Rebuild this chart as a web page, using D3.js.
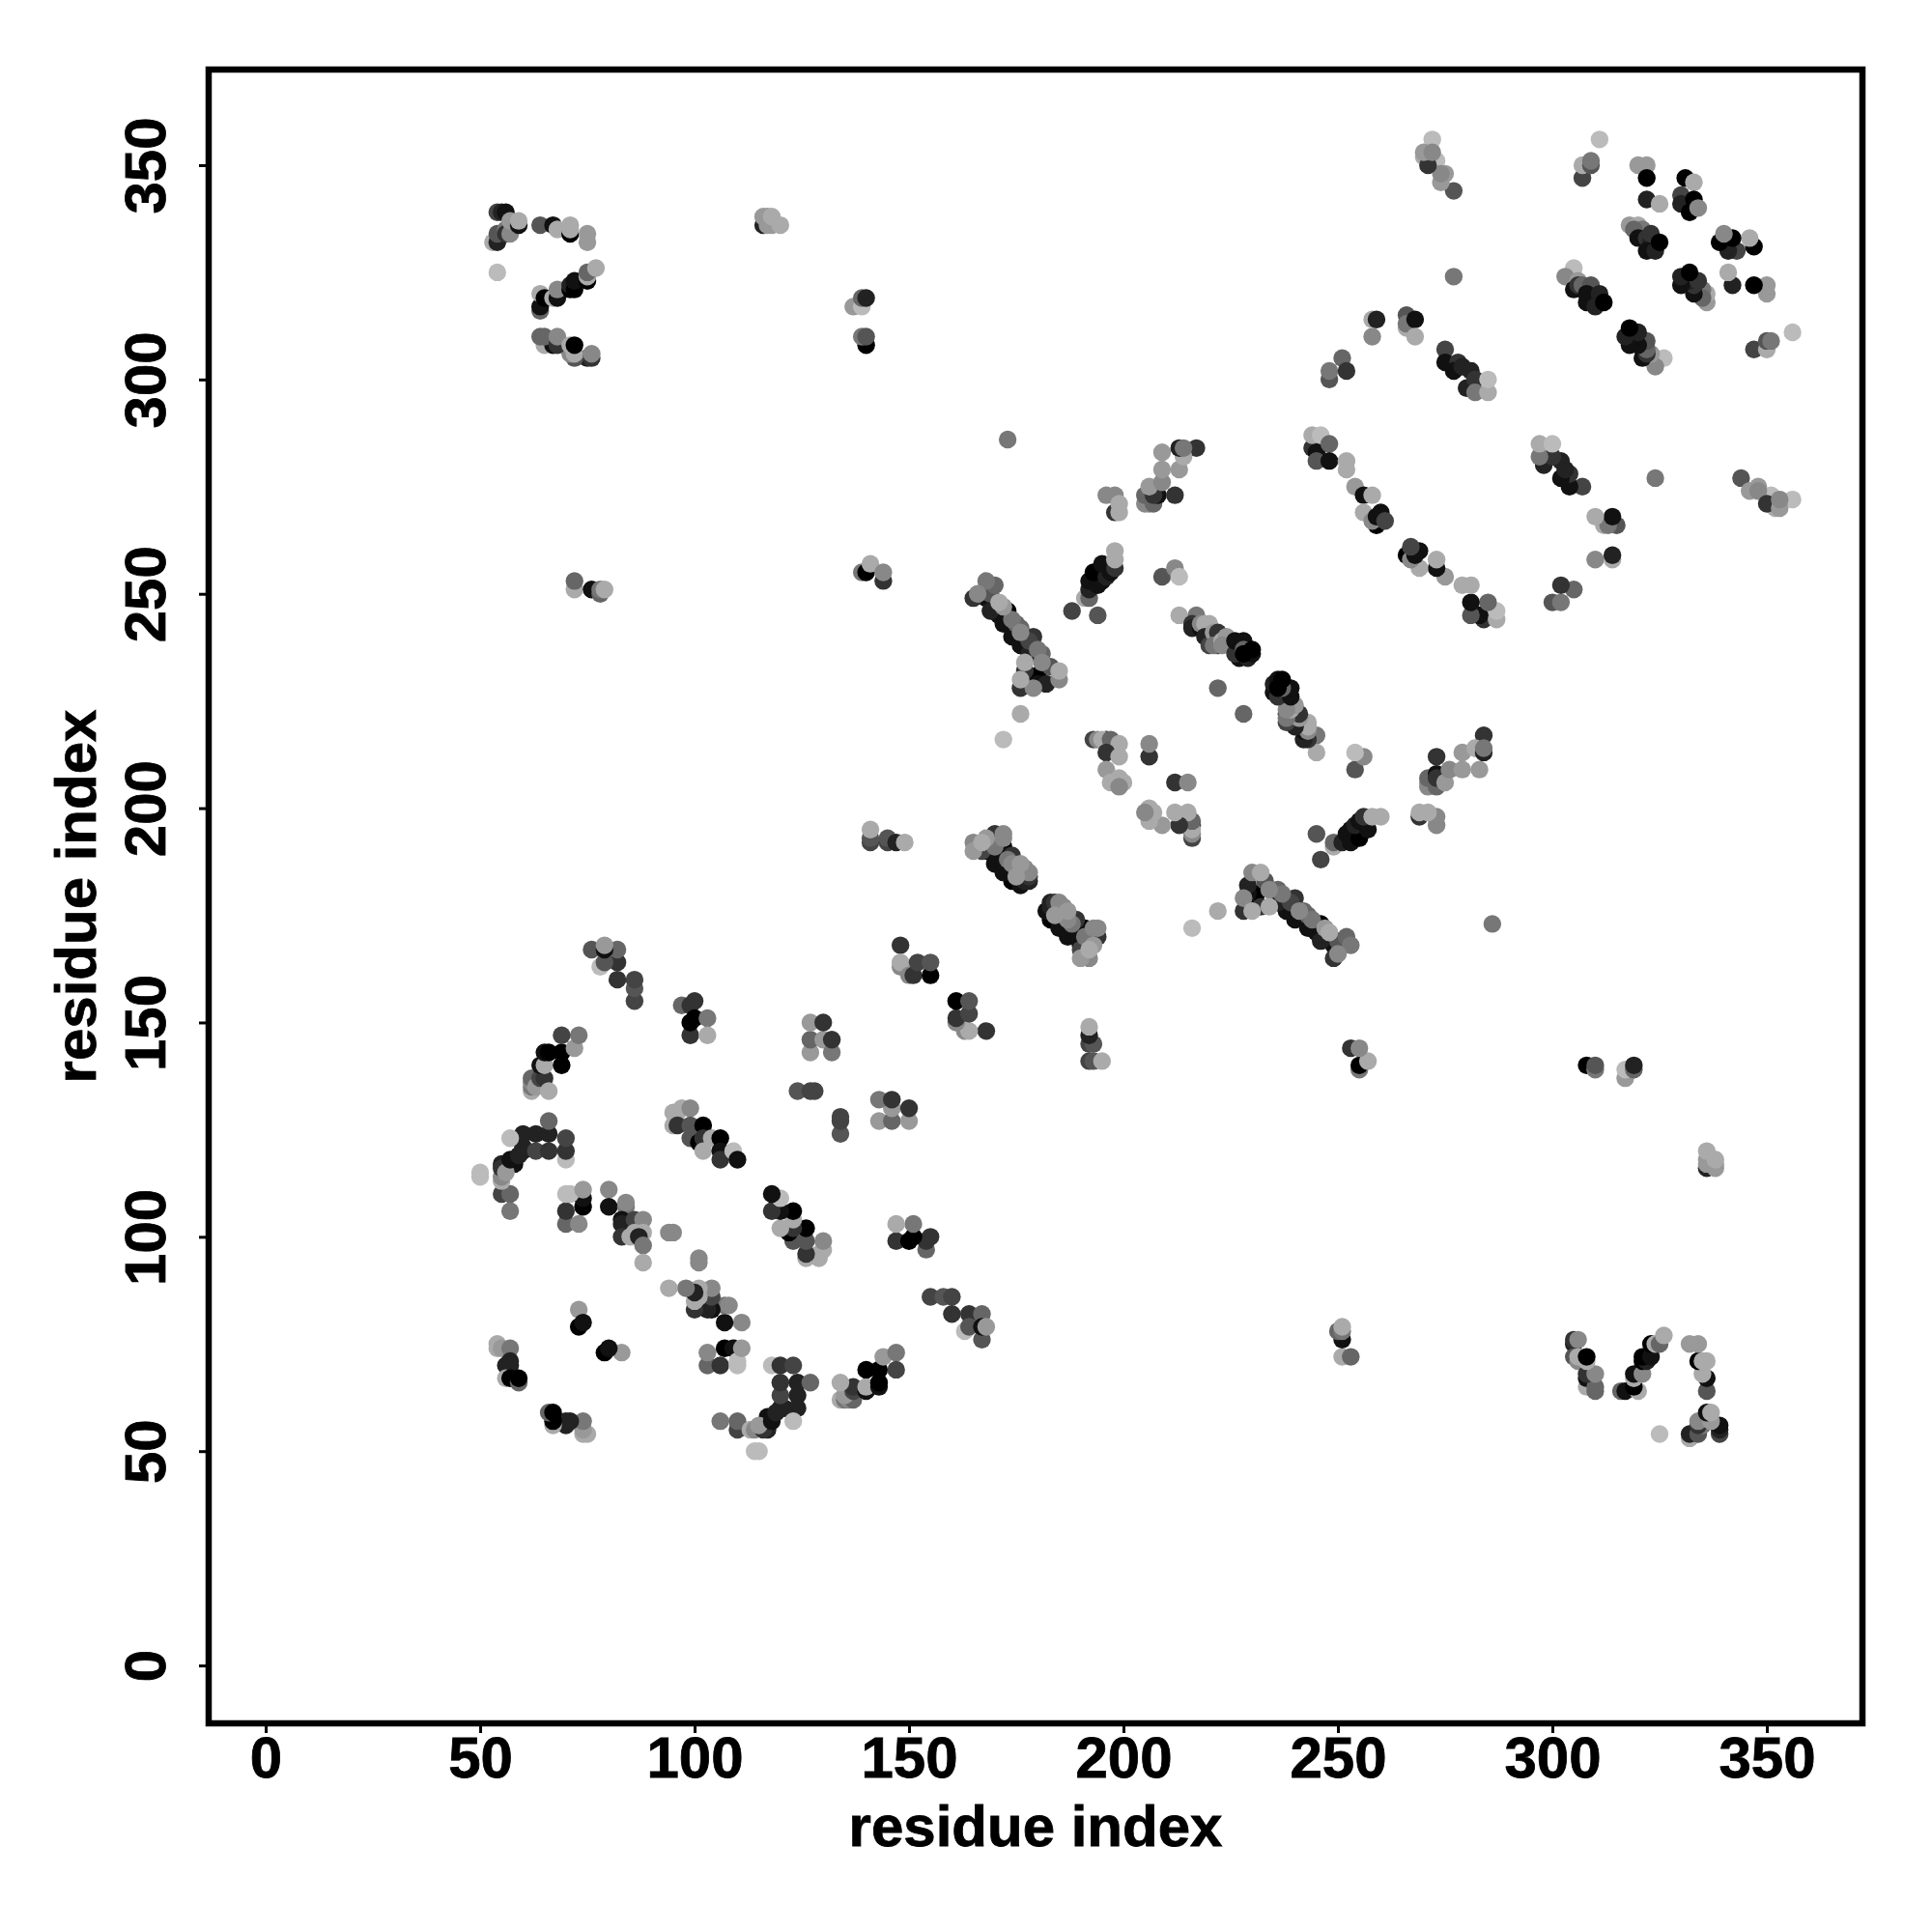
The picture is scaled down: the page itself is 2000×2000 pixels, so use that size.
<!DOCTYPE html>
<html><head><meta charset="utf-8">
<script src="https://cdn.jsdelivr.net/npm/d3@7/dist/d3.min.js"></script>
<style>html,body{margin:0;background:#fff}</style></head>
<body><div id="chart"></div>
<script>
// Contacts as [residue i, residue j, shade], i < j. A contact map is symmetric: each is also drawn at (j, i).
// Shade runs from 0 (black) to 15 (white).
const tickValues = [0,50,100,150,200,250,300,350];
const axisTitle = "residue index";

const c54_325 = [[54,325,11],[53,332,10],[54,333,10],[54,332,2],[54,334,5],[56,335,7],[56,334,3],[57,334,8],[54,339,4],[55,339,2],[56,339,1],[57,337,9],[59,336,1],[59,337,10]];
const c64_332 = [[64,336,5],[67,336,1],[68,335,10],[71,334,0],[71,336,10],[71,335,10],[75,334,9],[75,332,9]];
const c64_316 = [[64,316,6],[64,317,1],[64,320,10],[65,319,0],[67,319,10],[68,319,1],[68,321,8],[71,321,0],[71,322,2],[72,321,0],[72,323,1],[75,323,0],[75,324,10],[75,325,6],[77,326,10]];
const c64_305 = [[75,305,2],[76,305,3],[72,305,5],[71,306,8],[72,306,10],[65,308,10],[67,308,1],[64,310,6],[65,310,6],[68,308,3],[68,310,8],[71,308,10],[72,308,0],[76,306,8]];
const c116_336 = [[116,336,2],[116,338,9],[117,336,9],[117,338,9],[118,336,9],[118,338,10],[120,336,10]];
const c137_308 = [[137,317,9],[139,317,11],[139,319,6],[140,319,2],[140,308,0],[139,310,7],[140,310,5]];
const c72_250 = [[72,251,10],[72,253,6],[76,251,1],[78,250,6],[78,251,7],[79,251,10]];
const c139_253 = [[139,255,7],[140,255,0],[141,257,10],[144,253,3],[144,255,8]];
const c54_67 = [[54,75,10],[54,74,10],[55,74,9],[57,74,7],[57,71,2],[56,70,2],[57,70,2],[56,67,10],[57,67,0],[59,66,6],[59,67,0]];
const c73_79 = [[73,83,9],[73,79,0],[74,80,1]];
const c50_106 = [[50,114,11],[50,115,11],[57,106,7],[55,110,4],[57,110,6],[55,113,10],[55,114,8],[56,116,0],[56,117,1],[58,117,1],[55,117,2],[55,116,3],[56,115,9],[57,118,1],[59,119,2],[60,120,2],[60,121,2],[60,124,2],[57,123,11],[63,120,4],[63,124,2],[66,120,3],[66,124,2],[66,127,6],[70,118,11],[70,120,3],[70,123,4]];
const c62_134 = [[62,134,10],[62,135,7],[62,136,8],[62,137,6],[63,135,9],[64,137,4],[65,137,3],[66,134,10],[64,140,1],[65,140,10],[69,140,0],[65,143,1],[66,143,0],[69,143,0],[72,144,9],[73,147,7],[69,147,4]];
const c70_103 = [[70,103,6],[73,103,8],[70,106,3],[74,107,0],[74,109,1],[70,110,11],[71,110,11],[74,111,9]];
const c80_94 = [[80,111,8],[80,107,1],[84,107,7],[84,108,8],[83,104,1],[83,103,2],[83,100,3],[85,100,10],[86,104,4],[88,104,8],[86,101,10],[88,101,10],[87,100,2],[88,98,7],[88,94,10],[94,101,8],[95,101,8]];
const c76_155 = [[86,155,4],[86,158,5],[86,160,4],[82,160,3],[82,164,3],[82,167,6],[76,167,5],[78,163,11],[79,164,5],[79,167,1],[79,168,9]];
const c97_147 = [[97,154,6],[99,154,3],[100,155,3],[99,147,3],[99,150,0],[100,151,0],[103,151,7],[103,147,10]];
const c95_118 = [[95,126,10],[95,129,10],[96,129,10],[97,130,10],[99,130,8],[96,126,3],[99,126,5],[99,123,5],[101,122,0],[102,126,0],[102,123,3],[102,120,10],[104,123,10],[106,123,0],[106,120,1],[106,118,3],[109,120,11],[110,118,1]];
const c124_127 = [[124,134,5],[127,134,4],[128,134,4]];
const c127_143 = [[127,143,9],[127,146,6],[127,150,9],[130,146,9],[130,150,3],[132,143,7],[132,146,3]];
const c141_192 = [[141,192,4],[141,193,5],[145,192,4],[145,193,5],[147,192,2],[141,195,10],[149,192,10]];
const c148_161 = [[148,168,3],[148,163,8],[148,164,10],[150,161,8],[151,161,3],[152,164,4],[155,161,0],[155,164,5]];
const c165_183 = [[165,190,9],[165,192,8],[167,192,10],[167,190,4],[169,190,1],[169,192,3],[168,190,0],[171,188,1],[171,190,1],[170,187,1],[170,193,3],[170,191,7],[172,191,0],[172,190,0],[172,193,8],[172,194,8],[170,194,3],[168,193,9],[172,185,1],[172,186,1],[173,188,7],[174,183,0],[175,186,2],[174,184,0],[176,182,1],[174,189,3],[174,187,8],[176,185,6],[176,187,9],[175,184,9],[177,186,8],[177,183,2],[178,183,2],[178,184,3],[178,185,8]];
const c165_228 = [[165,249,3],[166,250,8],[168,249,1],[168,253,7],[170,252,6],[169,246,2],[169,250,5],[171,245,1],[171,248,10],[172,243,1],[172,247,9],[173,246,0],[174,240,1],[174,244,7],[175,243,6],[176,238,1],[176,241,8],[176,242,6],[178,236,2],[178,239,4],[179,240,3],[176,228,3],[176,230,10],[177,229,1],[177,232,3],[177,234,10],[179,228,8],[180,229,1],[180,231,0],[180,237,7],[181,236,6],[181,234,8],[182,229,2],[183,233,5],[185,230,8],[185,232,10]];
const c173 = [[173,286,7],[176,222,10],[172,216,11]];
const c188_245 = [[188,246,4],[194,245,5],[191,249,10],[192,249,6],[192,251,2],[192,253,1],[195,253,1],[194,252,1],[193,255,0],[196,254,2],[197,255,1],[195,257,1],[198,256,3],[198,258,10],[198,260,10]];
const c193_205 = [[193,216,4],[194,216,8],[196,216,2],[195,216,10],[197,216,6],[199,215,10],[196,213,3],[199,212,10],[196,209,9],[199,207,10],[197,206,10],[200,206,10],[199,205,8],[206,212,3],[206,215,8]];
const c196_269 = [[196,273,8],[198,273,8],[198,269,3],[199,271,10],[199,269,10]];
const c205_271 = [[205,271,8],[206,271,8],[205,273,6],[207,271,6],[208,273,1],[207,273,3],[206,275,9],[212,273,3],[209,276,8],[209,279,9],[213,279,9],[209,283,9],[217,284,3],[214,282,10],[213,284,2],[214,284,7]];
const c209_254 = [[209,254,5],[212,256,8],[213,254,11]];
const c213_235 = [[213,245,10],[217,245,7],[216,243,3],[216,242,2],[218,242,1],[218,243,8],[219,243,10],[220,243,10],[219,240,2],[220,238,4],[221,241,9],[222,241,3],[222,238,3],[221,238,7],[223,239,10],[224,240,9],[223,238,8],[227,235,1],[229,235,2],[227,237,1],[226,236,3],[226,239,1],[228,239,1],[228,237,6],[230,236,1],[228,236,0],[230,237,0]];
const c222 = [[222,228,6]];
const c244_266 = [[244,284,3],[245,283,1],[245,281,5],[244,287,10],[246,287,11],[248,285,6],[248,281,1],[252,281,10],[252,279,10],[254,275,9],[256,273,1],[258,273,10],[256,269,10],[259,266,0],[258,267,8],[259,268,1],[260,269,1],[261,267,4]];
const c248_300 = [[251,305,6],[248,300,5],[248,302,7],[252,302,3]];
const c258_310 = [[258,310,8],[258,314,10],[259,314,2],[266,312,10],[266,315,5],[266,313,7],[268,314,1],[268,310,10]];
const c270_344 = [[277,344,5],[274,346,9],[275,348,9],[272,351,6],[270,352,10],[273,351,11],[272,356,11],[274,348,8],[271,350,3],[270,353,9],[272,353,8]];
const c275_297 = [[275,307,4],[275,304,1],[278,304,3],[277,302,1],[279,303,2],[281,302,2],[280,298,2],[282,300,3],[282,297,7],[285,297,10],[285,300,11]];
const c277 = [[277,324,7]];
const c303_317 = [[305,326,11],[303,324,8],[306,323,9],[305,321,1],[306,322,3],[307,322,6],[309,322,5],[308,320,1],[308,318,1],[310,319,1],[311,320,2],[310,317,2],[312,318,0]];
const c307_347 = [[307,347,4],[307,350,10],[309,350,5],[309,351,7],[311,356,11]];
const c318_330 = [[318,336,9],[320,336,10],[321,335,7],[319,335,6],[320,333,1],[322,333,3],[323,332,2],[323,334,3],[322,330,1],[324,330,2],[325,332,0]];
const c320_339 = [[320,350,9],[322,350,9],[322,347,0],[322,342,2],[325,341,10],[330,343,4],[330,341,2],[332,339,0],[331,347,0],[333,346,10],[333,342,0],[334,340,8]];

const contactGroups = [c54_325,c64_332,c64_316,c64_305,c116_336,c137_308,c72_250,c139_253,c54_67,c73_79,c50_106,c62_134,c70_103,c80_94,c76_155,c97_147,c95_118,c124_127,c127_143,c141_192,c148_161,c165_183,c165_228,c173,c188_245,c193_205,c196_269,c205_271,c209_254,c213_235,c222,c244_266,c248_300,c258_310,c270_344,c275_297,c277,c303_317,c307_347,c318_330,c320_339];
// Bands whose paler dots lie over the dark ones in the picture.
const paleOnTop = [c165_183,c165_228];

const width = 2000, height = 2000;
const box = {left:216, right:1928, top:72, bottom:1784};
const x = d3.scaleLinear().domain([-13.3,372.3]).range([box.left,box.right]);
const y = d3.scaleLinear().domain([-13.5,372.3]).range([box.bottom,box.top]);
const shade = d3.scaleLinear().domain([0,15]).range(["#000000","#ffffff"]);

const svg = d3.select("#chart").append("svg")
  .attr("width",width).attr("height",height)
  .style("display","block").style("background","#fff");

const points = contactGroups
  .flatMap(group => paleOnTop.includes(group) ? d3.sort(group, p => p[2]) : group)
  .flatMap(([i,j,g]) => [{a:i,b:j,g},{a:j,b:i,g}]);

svg.append("g").selectAll("circle").data(points).join("circle")
  .attr("cx",d=>x(d.a)).attr("cy",d=>y(d.b)).attr("r",9.2)
  .attr("fill",d=>shade(d.g));

const font = "'Liberation Sans', Arial, Helvetica, sans-serif";
const heavy = s => s.style("font-family",font).style("font-weight","700")
  .attr("stroke","#000").attr("stroke-width",0.8).attr("fill","#000");

const xAxis = svg.append("g").attr("transform",`translate(0,${box.bottom})`)
  .call(d3.axisBottom(x).tickValues(tickValues).tickSize(10).tickFormat(d3.format("d")));
const yAxis = svg.append("g").attr("transform",`translate(${box.left},0)`)
  .call(d3.axisLeft(y).tickValues(tickValues).tickSize(10).tickFormat(d3.format("d")));
[xAxis,yAxis].forEach(a=>{
  a.select(".domain").remove();
  a.selectAll("line").attr("stroke","#000").attr("stroke-width",3);
  a.selectAll("text").call(heavy).style("font-size","60px");
});
xAxis.selectAll("text").attr("y",56).attr("dy",0).attr("text-anchor","middle");
yAxis.selectAll("text").attr("transform","rotate(-90)").attr("x",0).attr("y",-45).attr("dy",0).attr("text-anchor","middle");

svg.append("rect").attr("x",box.left).attr("y",box.top)
  .attr("width",box.right-box.left).attr("height",box.bottom-box.top)
  .attr("fill","none").attr("stroke","#000").attr("stroke-width",6.5);

svg.append("text").attr("x",(box.left+box.right)/2).attr("y",1911)
  .attr("text-anchor","middle").call(heavy).style("font-size","60px").text(axisTitle);
svg.append("text").attr("transform",`translate(99,${(box.top+box.bottom)/2}) rotate(-90)`)
  .attr("text-anchor","middle").call(heavy).style("font-size","60px").text(axisTitle);
</script></body></html>
